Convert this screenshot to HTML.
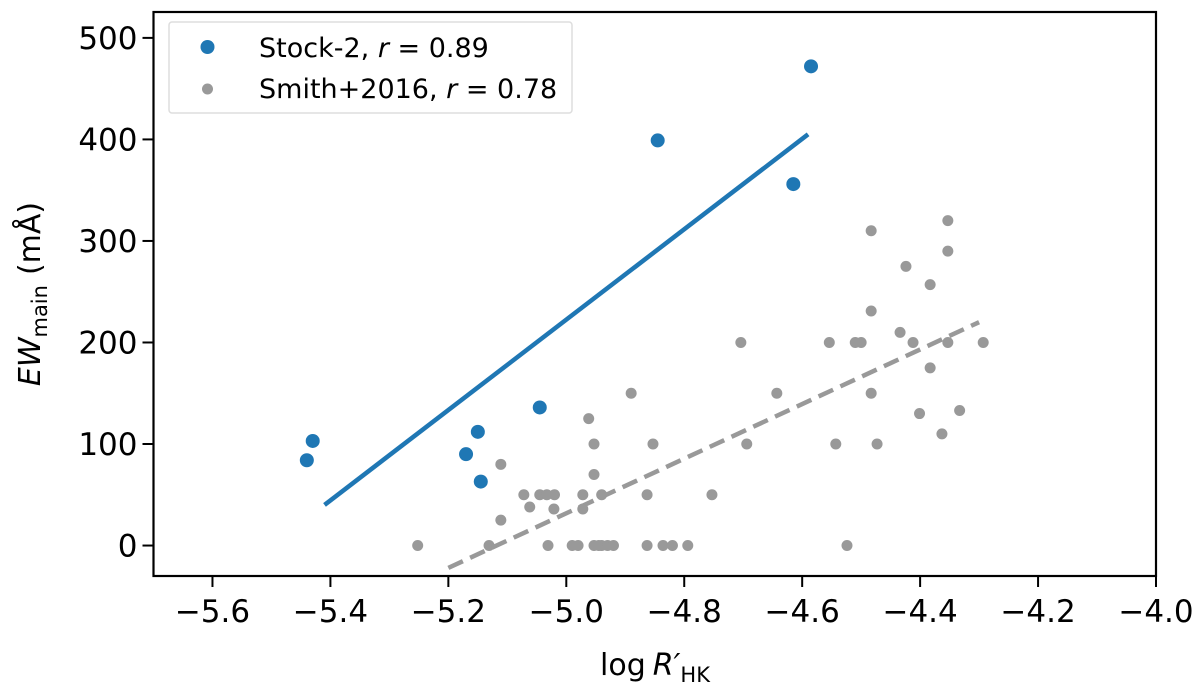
<!DOCTYPE html>
<html><head><meta charset="utf-8"><style>
html,body{margin:0;padding:0;background:#fff;}
svg{display:block;font-family:"DejaVu Sans","Liberation Sans",sans-serif;}
</style></head><body>
<svg id="chart" width="1200" height="689" viewBox="0 0 1200 689"></svg>
<script>
const xTicks=[-5.6,-5.4,-5.2,-5.0,-4.8,-4.6,-4.4,-4.2,-4.0];
const xTickLabels=["−5.6","−5.4","−5.2","−5.0","−4.8","−4.6","−4.4","−4.2","−4.0"];
const yTicks=[0,100,200,300,400,500];
const yTickLabels=["0","100","200","300","400","500"];
const stockX=[-5.44,-5.43,-5.17,-5.15,-5.145,-5.045,-4.845,-4.615,-4.585];
const stockY=[84,103,90,112,63,136,399,356,472];
const stockFitX=[-5.41,-4.59];
const stockFitY=[40,405];
const smithX=[-5.252,-5.131,-5.111,-5.111,-5.072,-5.062,-5.045,-5.033,-5.02,-5.021,-5.031,-4.99,-4.98,-4.972,-4.972,-4.962,-4.953,-4.953,-4.953,-4.945,-4.94,-4.93,-4.92,-4.94,-4.89,-4.863,-4.863,-4.853,-4.836,-4.82,-4.794,-4.753,-4.704,-4.694,-4.643,-4.554,-4.543,-4.524,-4.51,-4.5,-4.483,-4.483,-4.483,-4.473,-4.434,-4.424,-4.412,-4.401,-4.383,-4.383,-4.363,-4.353,-4.353,-4.353,-4.333,-4.293];
const smithY=[0,0,80,25,50,38,50,50,50,36,0,0,0,50,36,125,100,70,0,0,0,0,0,50,150,50,0,100,0,0,0,50,200,100,150,200,100,0,200,200,310,231,150,100,210,275,200,130,257,175,110,320,290,200,133,200];
const smithFitX=[-5.2,-4.3];
const smithFitY=[-22,220];

const L=153.5,R=1156,T=12,B=576;
const X0=-5.7,X1=-4.0,Y0=-30,Y1=525.5;
const sx=v=>L+(v-X0)/(X1-X0)*(R-L);
const sy=v=>B-(v-Y0)/(Y1-Y0)*(B-T);
const svg=document.getElementById('chart');
const NS='http://www.w3.org/2000/svg';
function mk(tag,attrs,parent){const e=document.createElementNS(NS,tag);for(const k in attrs)e.setAttribute(k,attrs[k]);(parent||svg).appendChild(e);return e;}

const grey='#999999',blue='#1f77b4';
smithX.forEach((x,i)=>{const c=mk('circle',{cx:sx(x),cy:sy(smithY[i]),r:5.5,fill:grey});

});
let l=mk('line',{x1:sx(smithFitX[0]),y1:sy(smithFitY[0]),x2:sx(smithFitX[1]),y2:sy(smithFitY[1]),stroke:grey,'stroke-width':4.5,'stroke-dasharray':'16,8'});


l=mk('line',{x1:sx(stockFitX[0]),y1:sy(stockFitY[0]),x2:sx(stockFitX[1]),y2:sy(stockFitY[1]),stroke:blue,'stroke-width':4.5});


stockX.forEach((x,i)=>{const c=mk('circle',{cx:sx(x),cy:sy(stockY[i]),r:7,fill:blue});

});

const f=mk('rect',{x:L,y:T,width:R-L,height:B-T,fill:'none',stroke:'#000','stroke-width':2.2});


xTicks.forEach((v,i)=>{const x=sx(v);
mk('line',{x1:x,y1:B,x2:x,y2:B+11,stroke:'#000','stroke-width':2});
const t=mk('text',{x:x,y:B+46,'text-anchor':'middle','font-size':31,fill:'#000'});t.textContent=xTickLabels[i];

});
yTicks.forEach((v,i)=>{const y=sy(v);
mk('line',{x1:L-11,y1:y,x2:L,y2:y,stroke:'#000','stroke-width':2});
const t=mk('text',{x:L-16,y:y+11,'text-anchor':'end','font-size':31,fill:'#000'});t.textContent=yTickLabels[i];

});
</script>
<svg width="1200" height="689" style="position:absolute;left:0;top:0" font-family="DejaVu Sans, Liberation Sans, sans-serif">
<text x="655" y="675" text-anchor="middle" font-size="30">log<tspan font-style="italic" dx="7">R′</tspan><tspan font-size="21" dy="7">HK</tspan></text>
<text transform="translate(40,294) rotate(-90)" text-anchor="middle" font-size="30"><tspan font-style="italic">EW</tspan><tspan font-size="21" dy="7">main</tspan><tspan dy="-7" dx="10">(m</tspan>Å)</text>
<g>
<rect x="169" y="22" width="403" height="91" rx="3" fill="#fff" stroke="#ddd" stroke-width="1.5"/>
<circle cx="207.5" cy="47" r="7" fill="#1f77b4"/>
<circle cx="207.5" cy="89" r="5.5" fill="#999"/>
<text x="259" y="57" font-size="27">Stock-2, <tspan font-style="italic">r</tspan> = 0.89</text>
<text x="259" y="98" font-size="27">Smith+2016, <tspan font-style="italic">r</tspan> = 0.78</text>
</g>
</svg>
</body></html>
